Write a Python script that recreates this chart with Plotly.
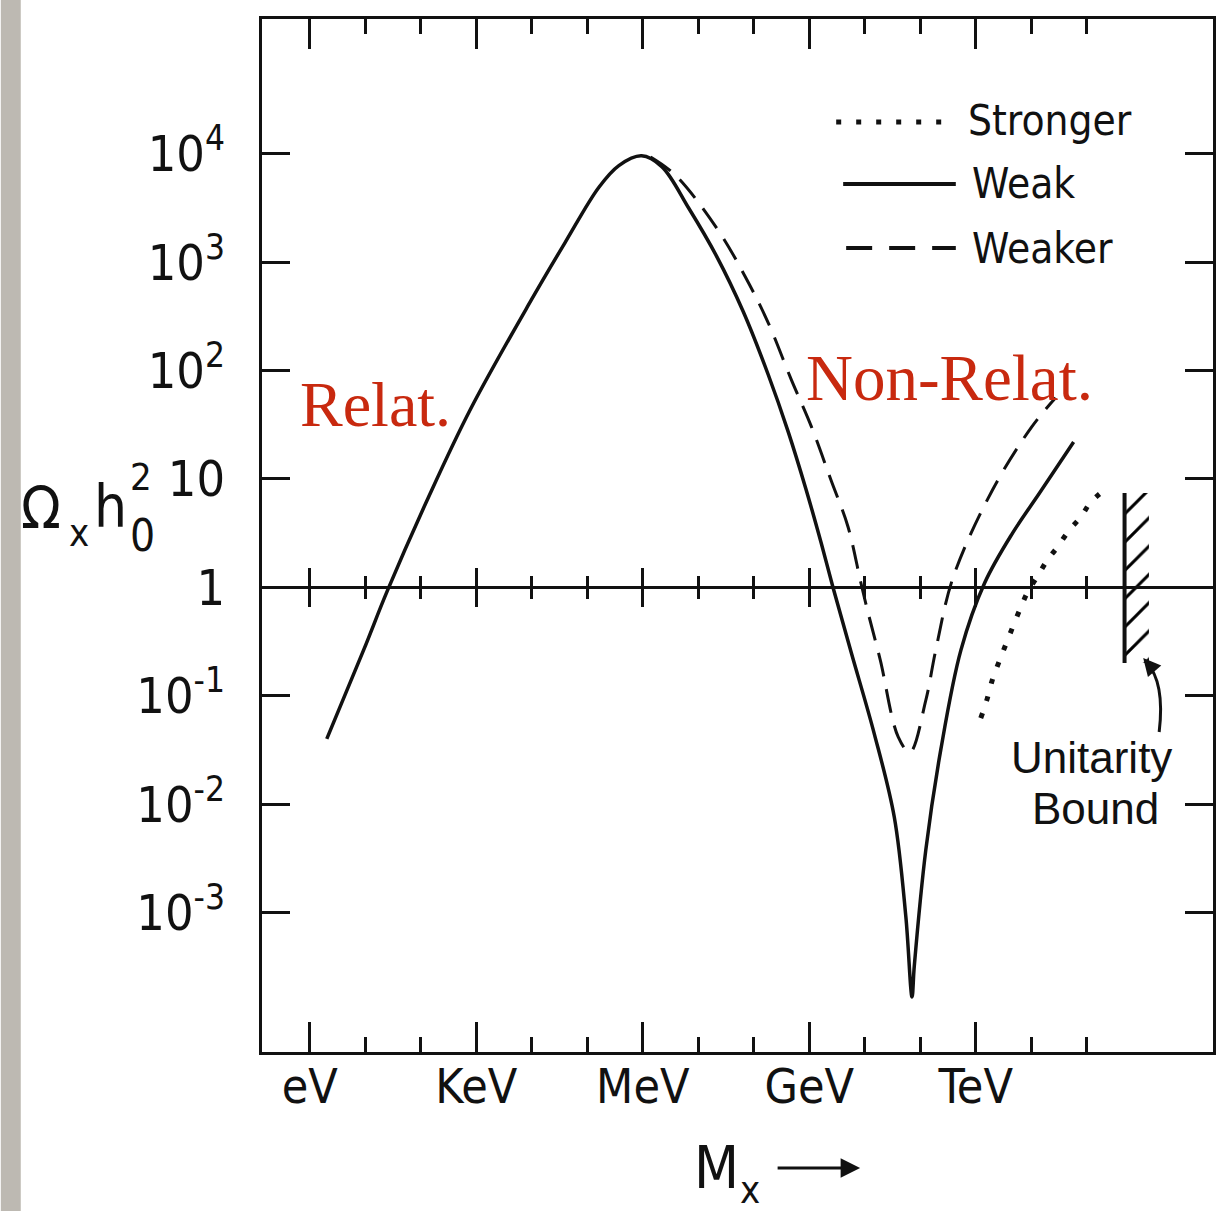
import plotly.graph_objects as go

# ---------------- data ----------------
# Mass M_x in eV, relic density Omega_x h0^2
weak_mass = [2.02, 9.3, 25, 138, 780, 9.8e3, 4.0e4, 1.62e5, 3.7e5, 9.5e5, 2.2e6,
             6.7e6, 2.13e7, 6.5e7, 1.83e8, 4.19e8, 8.8e8, 1.64e9, 2.7e9, 5.7e9,
             1.48e10, 3.4e10, 5.5e10, 7.1e10, 7.8e10, 1.26e11, 2.34e11, 5.4e11,
             1.45e12, 4.6e12, 1.41e13, 5.8e13]
weak_omega = [0.040, 0.263, 0.93, 6.8, 43.6, 447, 1520, 4900, 7760, 9550, 7590,
              3150, 1135, 346, 90.8, 27.0, 7.9, 2.56, 0.98, 0.25,
              0.0447, 0.0076, 9.1e-4, 1.66e-4, 3.2e-4, 3.8e-3, 0.0316, 0.263,
              1.1, 3.16, 7.4, 21.9]

weaker_mass = [1.38e6, 3.9e6, 2.3e7, 7.1e7, 1.82e8, 4.8e8, 1.1e9, 2.45e9, 5.0e9,
               8.5e9, 1.15e10, 1.9e10, 4.0e10, 6.5e10, 1.26e11, 1.9e11, 3.9e11,
               2.0e12, 1.02e13, 2.75e13]
weaker_omega = [9330, 6310, 1950, 724, 275, 81, 30, 9.8, 3.6,
                1.1, 0.58, 0.214, 0.0417, 0.030, 0.091, 0.263, 1.23,
                7.9, 30.2, 56]

stronger_mass = [1.23e12, 1.58e12, 2.0e12, 2.57e12, 3.6e12, 6.2e12, 8.5e12, 1.29e13,
                 1.95e13, 2.95e13, 4.9e13, 7.9e13, 1.15e14, 1.9e14]
stronger_omega = [0.062, 0.091, 0.141, 0.20, 0.31, 0.62, 0.89, 1.26,
                  1.78, 2.34, 3.39, 4.47, 6.0, 7.6]

unitarity_mass = [4.8e14, 1.32e15]      # bound line, right edge of hatching
unitarity_omega = [0.20, 7.4]           # bottom, top of the bound

x_tick_vals = [1, 1e3, 1e6, 1e9, 1e12]
x_tick_text = ["eV", "KeV", "MeV", "GeV", "TeV"]
x_minor_vals = [10, 100, 1e4, 1e5, 1e7, 1e8, 1e10, 1e11, 1e13, 1e14]
y_tick_vals = [1e4, 1e3, 1e2, 10, 1, 0.1, 0.01, 0.001]
y_tick_text = ["10<sup>4</sup>", "10<sup>3</sup>", "10<sup>2</sup>", "10", "1",
               "10<sup>-1</sup>", "10<sup>-2</sup>", "10<sup>-3</sup>"]

legend_names = ["Stronger", "Weak", "Weaker"]

# ---------------- layout geometry ----------------
W, H = 1219, 1211
L, R, T, B = 262, 1216, 19, 1052
PW, PH = R - L, B - T
X_RANGE = [-0.862, 16.275]
Y_RANGE = [-4.287, 5.242]
ONE_POS = (0 - Y_RANGE[0]) / (Y_RANGE[1] - Y_RANGE[0])


def px(x):
    return (x - L) / PW


def py(y):
    return (B - y) / PH


SANS_N = "DejaVu Sans Condensed, Liberation Sans Narrow, sans-serif"
SANS = "Liberation Sans, Arial, sans-serif"
SERIF = "Liberation Serif, DejaVu Serif, serif"
RED = "#c8290f"
INK = "#111111"

fig = go.Figure()

fig.add_trace(go.Scatter(x=weak_mass, y=weak_omega, mode="lines",
                         line=dict(color=INK, width=3.5, shape="spline", smoothing=1.0),
                         name=legend_names[1], showlegend=False, hoverinfo="skip"))
fig.add_trace(go.Scatter(x=weaker_mass, y=weaker_omega, mode="lines",
                         line=dict(color=INK, width=3, dash="24px,13px", shape="spline", smoothing=1.0),
                         name=legend_names[2], showlegend=False, hoverinfo="skip"))
fig.add_trace(go.Scatter(x=stronger_mass, y=stronger_omega, mode="lines",
                         line=dict(color=INK, width=5, dash="5px,13px", shape="spline", smoothing=1.0),
                         name=legend_names[0], showlegend=False, hoverinfo="skip"))

# unitarity bound: hatched band + vertical line
fig.add_trace(go.Scatter(
    x=[unitarity_mass[0], unitarity_mass[1], unitarity_mass[1], unitarity_mass[0]],
    y=[unitarity_omega[0], unitarity_omega[0], unitarity_omega[1], unitarity_omega[1]],
    mode="lines", fill="toself", line=dict(width=0), fillcolor="rgba(0,0,0,0)",
    fillpattern=dict(shape="/", size=20, solidity=0.15, fgcolor="#000000", fgopacity=1),
    showlegend=False, hoverinfo="skip"))
fig.add_trace(go.Scatter(x=[unitarity_mass[0], unitarity_mass[0]], y=unitarity_omega,
                         mode="lines", line=dict(color=INK, width=4),
                         showlegend=False, hoverinfo="skip"))

# dummy traces so the Omega=1 axes are drawn
for ax in ("x2", "x3"):
    fig.add_trace(go.Scatter(x=[None], y=[None], xaxis=ax, yaxis="y",
                             showlegend=False, hoverinfo="skip"))

tick_font = dict(family=SANS_N, size=48, color=INK)

xbase = dict(type="log", range=X_RANGE, showgrid=False, zeroline=False,
             showline=True, linecolor=INK, linewidth=3,
             tickmode="array", tickvals=x_tick_vals, tickwidth=3, tickcolor=INK)

fig.update_layout(
    width=W, height=H, autosize=False,
    margin=dict(l=L, r=W - R, t=T, b=H - B),
    paper_bgcolor="white", plot_bgcolor="white",
    showlegend=False,
    xaxis=dict(**xbase, ticktext=x_tick_text, ticks="inside", ticklen=30,
               mirror="allticks", tickfont=tick_font, ticklabelstandoff=-10,
               minor=dict(tickmode="array", tickvals=x_minor_vals, ticks="inside",
                          ticklen=15, tickwidth=3, tickcolor=INK, showgrid=False)),
    xaxis2=dict(**xbase, overlaying="x", anchor="free", position=ONE_POS, side="bottom",
                ticks="inside", ticklen=18, showticklabels=False,
                minor=dict(tickmode="array", tickvals=x_minor_vals, ticks="inside",
                           ticklen=10, tickwidth=3, tickcolor=INK, showgrid=False)),
    xaxis3=dict(**xbase, overlaying="x", anchor="free", position=ONE_POS, side="bottom",
                ticks="outside", ticklen=18, showticklabels=False,
                minor=dict(tickmode="array", tickvals=x_minor_vals, ticks="outside",
                           ticklen=10, tickwidth=3, tickcolor=INK, showgrid=False)),
    yaxis=dict(type="log", range=Y_RANGE, showgrid=False, zeroline=False,
               showline=True, linecolor=INK, linewidth=3, mirror="ticks",
               tickmode="array", tickvals=y_tick_vals, ticktext=y_tick_text,
               ticks="inside", ticklen=28, tickwidth=3, tickcolor=INK,
               tickfont=dict(family=SANS_N, size=50, color=INK), ticklabelstandoff=24),
)

shapes = []
# grey scan edge at left
shapes.append(dict(type="rect", xref="paper", yref="paper",
                   x0=px(0), x1=px(20), y0=py(H + 5), y1=py(-5),
                   fillcolor="#bdb9b2", line=dict(width=0), layer="below"))
# legend samples
shapes.append(dict(type="line", xref="paper", yref="paper", x0=px(838), x1=px(958),
                   y0=py(122), y1=py(122), line=dict(color=INK, width=5, dash="5px,15px")))
shapes.append(dict(type="line", xref="paper", yref="paper", x0=px(845), x1=px(958),
                   y0=py(184), y1=py(184), line=dict(color=INK, width=4)))
shapes.append(dict(type="line", xref="paper", yref="paper", x0=px(848), x1=px(958),
                   y0=py(248), y1=py(248), line=dict(color=INK, width=4, dash="26px,17px")))
# curved arrow stem to the unitarity bound
shapes.append(dict(type="path", xref="paper", yref="paper",
                   path=f"M {px(1162)},{py(732)} Q {px(1168)},{py(682)} {px(1149)},{py(662)}",
                   line=dict(color=INK, width=3)))
fig.update_layout(shapes=shapes)

ann = []


def text(s, x, y, size, family=SANS_N, color=INK, xanchor="center", yanchor="middle"):
    ann.append(dict(text=s, x=px(x), y=py(y), xref="paper", yref="paper",
                    showarrow=False, xanchor=xanchor, yanchor=yanchor,
                    font=dict(family=family, size=size, color=color)))


# legend text
text(legend_names[0], 968, 121, 42, xanchor="left")
text(legend_names[1], 972, 184, 42, xanchor="left")
text(legend_names[2], 972, 248, 42, xanchor="left")
# region labels
text("Relat.", 298, 404, 64, family=SERIF, color=RED, xanchor="left")
text("Non-Relat.", 806, 378, 65, family=SERIF, color=RED, xanchor="left")
# unitarity
text("Unitarity", 1094, 757, 44, family=SANS)
text("Bound", 1098, 808, 44, family=SANS)
# y-axis title pieces
text("Ω", 40, 508, 58)
text("x", 78, 533, 38)
text("h", 110, 507, 58)
text("2", 141, 477, 38)
text("0", 142, 535, 44)
# x-axis title
text("M", 718, 1168, 58)
text("x", 752, 1190, 38)
fig.update_layout(annotations=ann)

# arrowheads
fig.add_annotation(x=px(862), y=py(1168), xref="paper", yref="paper", text="",
                   showarrow=True, ax=-84, ay=0, arrowhead=2, arrowsize=1.3,
                   arrowwidth=3, arrowcolor=INK)
fig.add_annotation(x=px(1146), y=py(658), xref="paper", yref="paper", text="",
                   showarrow=True, ax=6, ay=7, arrowhead=2, arrowsize=1.4,
                   arrowwidth=2.5, arrowcolor=INK)

fig.write_html("out.html")
